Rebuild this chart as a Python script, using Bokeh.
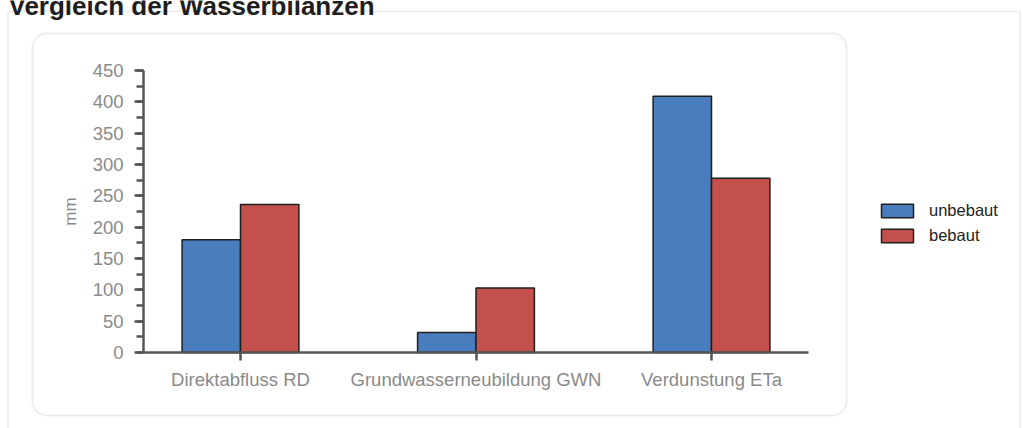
from bokeh.plotting import figure
from bokeh.models import (Range1d, BoxAnnotation, Label, Legend, LegendItem,
                          FixedTicker, SingleIntervalTicker, LinearAxis)
from bokeh.embed import file_html
from bokeh.resources import INLINE

title = "Vergleich der Wasserbilanzen"
categories = ["Direktabfluss RD", "Grundwasserneubildung GWN", "Verdunstung ETa"]
series_names = ["unbebaut", "bebaut"]
unbebaut = [180, 32, 409]
bebaut = [236, 103, 278]
y_label = "mm"

BLUE = "#4a7dbd"
RED = "#c4504c"
GRAY = "#8a8a8a"
AXIS = "#555555"
BOX = "#c2c2c2"

W, H = 1022, 428
# plot-area geometry in page px
FL, FR, FT, FB = 143, 808, 70, 352
C0, CSTEP = 240.0, 235.5          # px of first category centre, px per category
Y_TOP = 450

# data ranges spanning whole canvas so the frame fills the page
x0 = 0.5 - C0 / CSTEP
x1 = x0 + W / CSTEP
ppu = (FB - FT) / Y_TOP
y0 = -(H - FB) / ppu
y1 = Y_TOP + FT / ppu

p = figure(width=W, height=H, output_backend="svg", toolbar_location=None,
           x_range=Range1d(x0, x1), y_range=Range1d(y0, y1),
           min_border=0, x_axis_type=None, y_axis_type=None)
p.outline_line_color = None
p.background_fill_color = "white"
p.border_fill_color = "white"
p.xgrid.visible = False
p.ygrid.visible = False

p.extra_x_ranges = {"px": Range1d(0, W)}
p.extra_y_ranges = {"px": Range1d(H, 0)}

# decorations
outer = BoxAnnotation(left=7.5, right=1019.5, top=11, bottom=460,
                      x_range_name="px", y_range_name="px",
                      fill_color=None, line_color=BOX, line_width=1.8)
inner = BoxAnnotation(left=32, right=846, top=33, bottom=415,
                      x_range_name="px", y_range_name="px",
                      fill_color=None, line_color=BOX, line_width=2,
                      border_radius=14)
p.add_layout(outer)
p.add_layout(inner)
p.add_layout(Label(x=8, y=5, text=title, x_range_name="px", y_range_name="px",
                   text_font="Liberation Sans", text_font_style="bold",
                   text_font_size="26px", text_color="#1e1e1e",
                   text_baseline="alphabetic"))

idx = list(range(len(categories)))
bw = 0.248
xb = [i + 0.5 - bw / 2 for i in idx]
xr = [i + 0.5 + bw / 2 for i in idx]
rb = p.vbar(x=xb, top=unbebaut, bottom=0, width=bw, fill_color=BLUE,
            line_color="#1e1e1e", line_width=1.5)
rr = p.vbar(x=xr, top=bebaut, bottom=0, width=bw, fill_color=RED,
            line_color="#1e1e1e", line_width=1.5)

ax_left = x0 + FL / CSTEP
ax_right = x0 + FR / CSTEP

yaxis = LinearAxis(ticker=SingleIntervalTicker(interval=50, num_minor_ticks=2),
                   axis_label=y_label, fixed_location=ax_left, bounds=(0, Y_TOP))
yaxis.axis_line_color = AXIS
yaxis.axis_line_width = 2.5
yaxis.major_tick_line_color = AXIS
yaxis.major_tick_line_width = 2.5
yaxis.major_tick_out = 9
yaxis.major_tick_in = 0
yaxis.minor_tick_line_color = AXIS
yaxis.minor_tick_line_width = 2.5
yaxis.minor_tick_out = 7
yaxis.minor_tick_in = 0
yaxis.major_label_text_font = "Liberation Sans"
yaxis.major_label_text_font_size = "18.5px"
yaxis.major_label_text_color = GRAY
yaxis.major_label_standoff = 11
yaxis.axis_label_text_font = "Liberation Sans"
yaxis.axis_label_text_font_size = "17px"
yaxis.axis_label_text_font_style = "normal"
yaxis.axis_label_text_color = GRAY
yaxis.axis_label_standoff = 10
p.add_layout(yaxis, "left")

xaxis = LinearAxis(ticker=FixedTicker(ticks=[i + 0.5 for i in idx]),
                   major_label_overrides={i + 0.5: c for i, c in zip(idx, categories)},
                   fixed_location=0, bounds=(ax_left, ax_right))
xaxis.axis_line_color = AXIS
xaxis.axis_line_width = 2.5
xaxis.major_tick_line_color = AXIS
xaxis.major_tick_line_width = 2.5
xaxis.major_tick_out = 8
xaxis.major_tick_in = 0
xaxis.minor_tick_line_color = None
xaxis.major_label_text_font = "Liberation Sans"
xaxis.major_label_text_font_size = "18.5px"
xaxis.major_label_text_color = GRAY
xaxis.major_label_standoff = 8
p.add_layout(xaxis, "below")

legend = Legend(items=[LegendItem(label=series_names[0], renderers=[rb]),
                       LegendItem(label=series_names[1], renderers=[rr])],
                location=(877, H - 245))
legend.glyph_width = 40
legend.glyph_height = 17
legend.spacing = 6
legend.padding = 0
legend.margin = 0
legend.label_standoff = 12
legend.label_text_font = "Liberation Sans"
legend.label_text_font_size = "16.5px"
legend.label_text_color = "#222222"
legend.border_line_color = None
legend.background_fill_alpha = 0
p.add_layout(legend, "center")

open("out.html", "w").write(file_html(p, INLINE))
